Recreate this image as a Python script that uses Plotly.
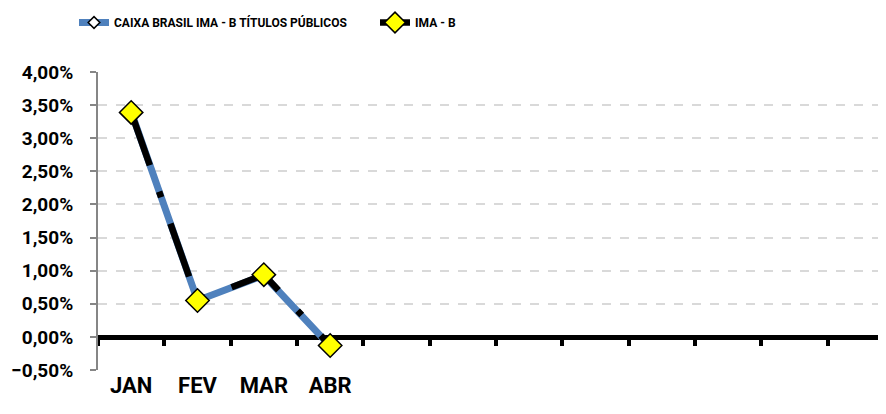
import plotly.graph_objects as go

# data
meses = ["JAN", "FEV", "MAR", "ABR"]
caixa = [0.0340, 0.0055, 0.0093, -0.0014]
ima_b = [0.0339, 0.0055, 0.0094, -0.0013]
nome_caixa = "CAIXA BRASIL IMA - B TÍTULOS PÚBLICOS"
nome_imab = "IMA - B"

FONTE = "Roboto, Open Sans, sans-serif"

x = list(range(len(meses)))

fig = go.Figure()

fig.add_trace(go.Scatter(
    x=x, y=caixa, name=nome_caixa, mode="lines+markers",
    line=dict(color="#4F81BD", width=7),
    marker=dict(symbol="diamond", size=9, color="white", line=dict(color="black", width=1.5)),
))
fig.add_trace(go.Scatter(
    x=x, y=ima_b, name=nome_imab, mode="lines+markers",
    line=dict(color="black", width=6.5, dash="56px,28px,6px,28px"),
    marker=dict(symbol="diamond", size=18, color="#FFFF00", line=dict(color="black", width=1.5)),
))
# invisible trace so the zero-axis is drawn
fig.add_trace(go.Scatter(x=[0], y=[0], xaxis="x2", mode="markers",
                         marker=dict(opacity=0), showlegend=False, hoverinfo="skip"))

# boundaries of the 12 month slots
limites = [i - 0.5 for i in range(13)]
pos_zero = 0.005 / 0.045

# page body adds 8px, margins are reduced for that
fig.update_layout(
    width=886, height=414,
    margin=dict(l=90, r=0, t=64, b=52),
    plot_bgcolor="white", paper_bgcolor="white",
    separators=",.",
    font=dict(family=FONTE, color="black"),
    showlegend=True,
    legend=dict(
        orientation="h", x=0.0745, xref="container", xanchor="left",
        y=1.0, yref="container", yanchor="top",
        font=dict(size=12, family=FONTE, weight="bold"),
        entrywidth=256, entrywidthmode="pixels",
    ),
    xaxis=dict(
        range=[-0.5, 11.5], tickvals=x, ticktext=meses, showline=False,
        showgrid=False, zeroline=False, ticks="", automargin=False,
        tickfont=dict(size=22, family=FONTE, weight="bold"),
    ),
    xaxis2=dict(
        overlaying="x", matches="x", anchor="free", position=pos_zero,
        tickvals=limites, showticklabels=False, ticks="outside", ticklen=6,
        tickwidth=4, tickcolor="black", showline=True, linecolor="black",
        linewidth=5, showgrid=False, zeroline=False, layer="below traces",
        automargin=False,
    ),
    yaxis=dict(
        range=[-0.005, 0.04], dtick=0.005, tickformat=".2%",
        showline=True, linecolor="#868686", linewidth=2,
        ticks="outside", ticklen=6, tickwidth=2, tickcolor="#868686",
        showgrid=True, gridcolor="#D9D9D9", gridwidth=2, griddash="dash",
        zeroline=False, automargin=False, ticklabelstandoff=13,
        tickfont=dict(size=19, family=FONTE, weight="bold"),
    ),
)

fig.write_html("out.html")
